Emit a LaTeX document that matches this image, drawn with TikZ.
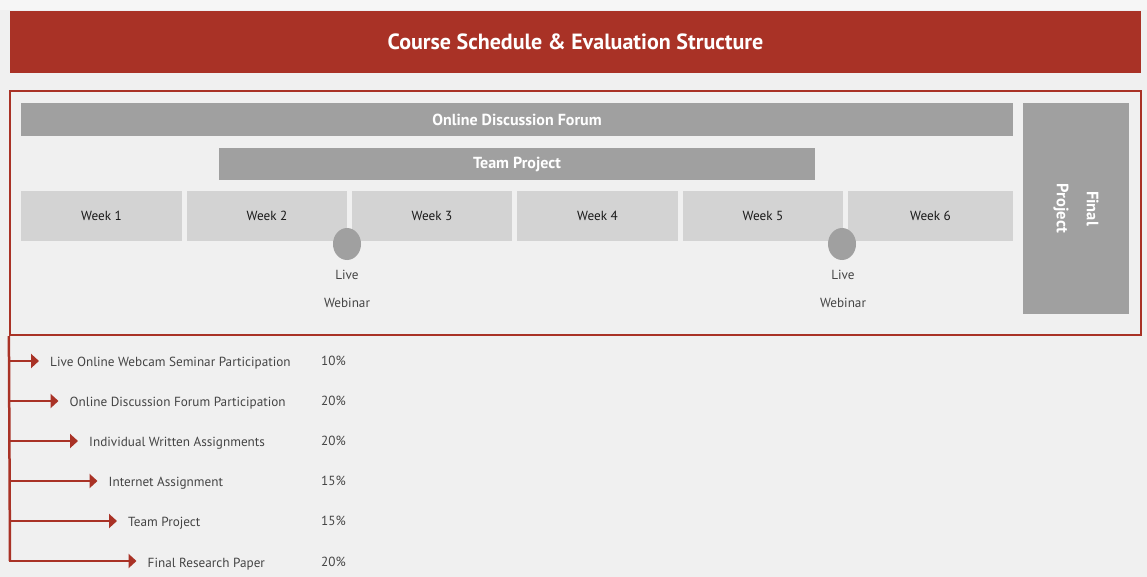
\documentclass[tikz,border=0pt]{standalone}
\usepackage{fontspec}
\setmainfont{PT Sans}
\usetikzlibrary{arrows.meta,positioning,shapes.geometric}
\definecolor{bgc}{HTML}{F0F0F0}
\definecolor{topc}{HTML}{F6F6F6}
\definecolor{redc}{HTML}{A93226}
\definecolor{darkbar}{HTML}{A0A0A0}
\definecolor{weekc}{HTML}{D3D3D3}
\definecolor{txtc}{HTML}{444444}
\tikzset{
  bar/.style={fill=darkbar, draw=none, inner sep=0pt, text=white, font=\fontsize{16}{17}\selectfont\bfseries},
  weekbox/.style={fill=weekc, draw=none, inner sep=0pt, minimum height=50pt, text=black!90, font=\fontsize{13.2}{15}\selectfont},
  dot/.style={ellipse, fill=darkbar, draw=none, minimum width=28pt, minimum height=32pt, inner sep=0pt},
  wlabel/.style={text=txtc, font=\fontsize{13.2}{28}\selectfont, align=center, inner sep=0pt},
  item/.style={text=txtc, font=\fontsize{13.2}{15}\selectfont, anchor=west, inner sep=0pt},
  pct/.style={text=txtc, font=\fontsize{13.2}{15}\selectfont, anchor=west, inner sep=0pt},
  redline/.style={draw=redc, line width=2.5pt},
  arr/.style={draw=redc, line width=2.5pt, -{Triangle[length=8pt,width=14pt]}}
}
\begin{document}
\begin{tikzpicture}[x=1pt,y=-1pt]
\useasboundingbox (0,0) rectangle (1147,577);
\fill[bgc] (0,0) rectangle (1147,577);
\fill[topc] (0,0) rectangle (1147,10);
% title
\node[fill=redc, inner sep=0pt, minimum width=1131pt, minimum height=62pt, text=white, font=\fontsize{22}{24}\selectfont\bfseries] (title) at (575.5,42) {Course Schedule \& Evaluation Structure};
% outer box
\node[draw=redc, line width=2.2pt, inner sep=0pt, minimum width=1131pt, minimum height=244pt] (frame) at (575.5,213) {};
% bars
\node[bar, minimum width=992pt, minimum height=33pt] (forum) at (517,119.5) {Online Discussion Forum};
\node[bar, minimum width=596pt, minimum height=32pt] (team) at (517,164) {Team Project};
% weeks
\node[weekbox, minimum width=161pt] (w1) at (101.5,216) {Week 1};
\node[weekbox, minimum width=160pt] (w2) at (267,216) {Week 2};
\node[weekbox, minimum width=160pt] (w3) at (432,216) {Week 3};
\node[weekbox, minimum width=161pt] (w4) at (597.5,216) {Week 4};
\node[weekbox, minimum width=160pt] (w5) at (763,216) {Week 5};
\node[weekbox, minimum width=165pt] (w6) at (930.5,216) {Week 6};
% final project
\node[bar, minimum width=106pt, minimum height=211pt] (final) at (1076,208.5) {};
\node[text=white, font=\fontsize{16.5}{30}\selectfont\bfseries, rotate=-90, align=center, inner sep=0pt] (finaltxt) at (final.center) {Final\\Project};
% webinars
\node[dot] (d1) at (347,244) {};
\node[dot] (d2) at (842,244) {};
\node[wlabel] (l1) at (347,289) {Live\\Webinar};
\node[wlabel] (l2) at (843,289) {Live\\Webinar};
% evaluation list
\coordinate (top) at (frame.south west);
\coordinate (c1) at (10,361);
\coordinate (c2) at (10,401);
\coordinate (c3) at (10,441);
\coordinate (c4) at (10,481);
\coordinate (c5) at (10,521);
\coordinate (c6) at (10,561);
\node[item] (i1) at (50,363) {Live Online Webcam Seminar Participation};
\node[item] (i2) at (69.5,403) {Online Discussion Forum Participation};
\node[item] (i3) at (89,443) {Individual Written Assignments};
\node[item] (i4) at (108.5,483) {Internet Assignment};
\node[item] (i5) at (128,523) {Team Project};
\node[item] (i6) at (147.5,564) {Final Research Paper};
\node[pct] (p1) at (321,361) {10\%};
\node[pct] (p2) at (321,401) {20\%};
\node[pct] (p3) at (321,441) {20\%};
\node[pct] (p4) at (321,481) {15\%};
\node[pct] (p5) at (321,521) {15\%};
\node[pct] (p6) at (321,562) {20\%};
\draw[redline] (top) -- (c6);
\draw[arr] (c1) -- ([xshift=-11pt]c1 -| i1.west);
\draw[arr] (c2) -- ([xshift=-11pt]c2 -| i2.west);
\draw[arr] (c3) -- ([xshift=-11pt]c3 -| i3.west);
\draw[arr] (c4) -- ([xshift=-11pt]c4 -| i4.west);
\draw[arr] (c5) -- ([xshift=-11pt]c5 -| i5.west);
\draw[arr] ([xshift=-1.25pt]c6) -- ([xshift=-11pt]c6 -| i6.west);
\end{tikzpicture}
\end{document}
